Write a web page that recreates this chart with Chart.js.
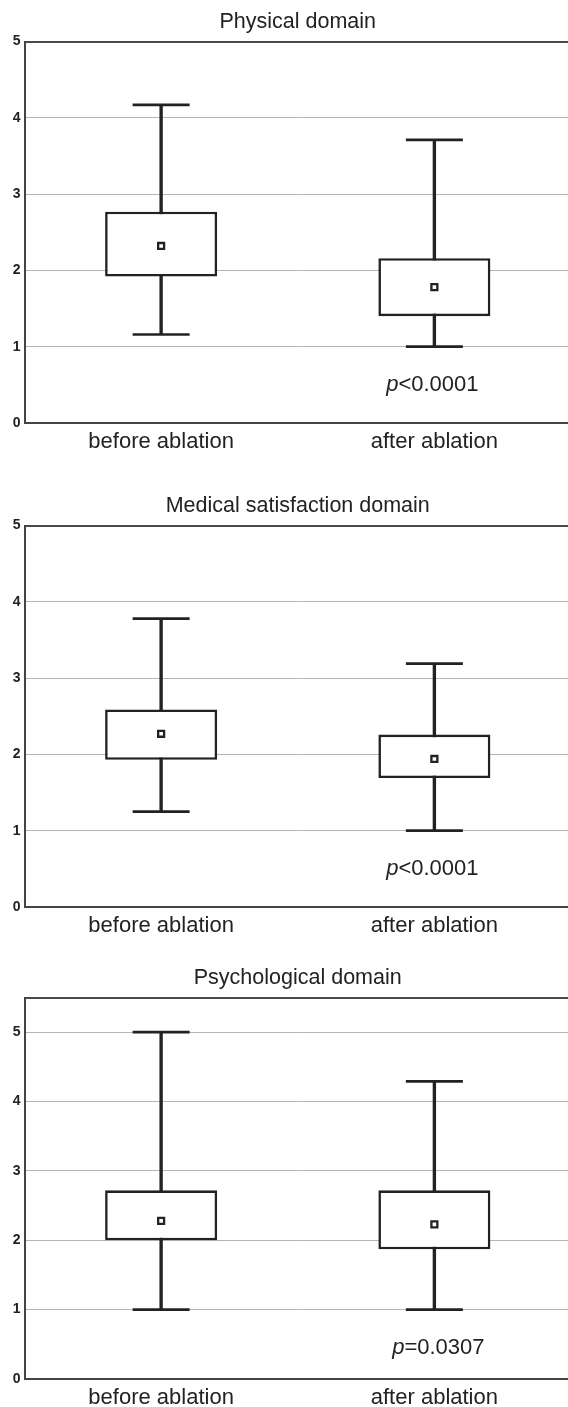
<!DOCTYPE html>
<html>
<head>
<meta charset="utf-8">
<script src="https://cdn.jsdelivr.net/npm/chart.js@4"></script>
<style>
html,body{margin:0;padding:0;background:#fff;overflow:hidden;width:568px;height:1407px;position:relative;}
.wrap{position:absolute;left:0;width:571px;height:470px;}
</style>
</head>
<body>
<div class="wrap" style="top:0px"><canvas id="c1"></canvas></div>
<div class="wrap" style="top:484px"><canvas id="c2"></canvas></div>
<div class="wrap" style="top:956px"><canvas id="c3"></canvas></div>
<script>
// ---- data ----
const categories = ['before ablation', 'after ablation'];
const titles = ['Physical domain', 'Medical satisfaction domain', 'Psychological domain'];
const yTickLabels = [0, 1, 2, 3, 4, 5];
const yMax = [5, 5, 5.5];

const physicalMin  = [1.16, 1.00];
const physicalQ1   = [1.92, 1.40];
const physicalMean = [2.32, 1.78];
const physicalQ3   = [2.77, 2.16];
const physicalMax  = [4.17, 3.71];

const medicalMin  = [1.25, 1.00];
const medicalQ1   = [1.93, 1.69];
const medicalMean = [2.27, 1.94];
const medicalQ3   = [2.59, 2.26];
const medicalMax  = [3.78, 3.19];

const psychMin  = [1.00, 1.00];
const psychQ1   = [2.00, 1.87];
const psychMean = [2.28, 2.23];
const psychQ3   = [2.72, 2.72];
const psychMax  = [5.00, 4.29];

const pValueText = ['<0.0001', '<0.0001', '=0.0307'];
const pValueAt   = [0.5, 0.5, 0.45];

// ---- styling ----
const DARK = '#222222';
const FONT = '"Liberation Sans", Arial, Helvetica, sans-serif';

const pLabelPlugin = {
  id: 'plabel',
  afterDatasetsDraw(chart, args, opts) {
    const ctx = chart.ctx;
    const x = chart.scales.x, y = chart.scales.y;
    const px = x.getPixelForValue(opts.index) + (opts.dx || 0);
    const py = y.getPixelForValue(opts.value);
    ctx.save();
    ctx.fillStyle = DARK;
    ctx.textBaseline = 'middle';
    ctx.textAlign = 'left';
    ctx.font = 'italic 22px ' + FONT;
    const w1 = ctx.measureText('p').width;
    ctx.font = '22px ' + FONT;
    const w2 = ctx.measureText(opts.text).width;
    let sx = px - (w1 + w2) / 2;
    ctx.font = 'italic 22px ' + FONT;
    ctx.fillText('p', sx, py);
    ctx.font = '22px ' + FONT;
    ctx.fillText(opts.text, sx + w1, py);
    ctx.restore();
  }
};

function makeChart(id, idx, mins, q1, means, q3, maxs, dx) {
  const max = yMax[idx];
  return new Chart(document.getElementById(id), {
    data: {
      labels: categories,
      datasets: [
        {
          type: 'line', data: means, showLine: false, order: 0,
          pointStyle: 'rect', pointRadius: 4.2, pointBorderWidth: 2.3,
          pointBackgroundColor: '#fff', pointBorderColor: DARK
        },
        {
          type: 'bar', order: 1, grouped: false,
          data: categories.map((_, i) => [q1[i], q3[i]]),
          backgroundColor: '#fff', borderColor: DARK, borderWidth: 2.6,
          borderSkipped: false, barPercentage: 0.41, categoryPercentage: 1
        },
        {
          type: 'line', data: maxs, showLine: false, order: 2,
          pointStyle: 'line', pointRadius: 28.5, pointBorderWidth: 2.7,
          pointBorderColor: DARK, pointBackgroundColor: DARK
        },
        {
          type: 'line', data: mins, showLine: false, order: 2,
          pointStyle: 'line', pointRadius: 28.5, pointBorderWidth: 2.7,
          pointBorderColor: DARK, pointBackgroundColor: DARK
        },
        {
          type: 'bar', order: 3, grouped: false,
          data: categories.map((_, i) => [mins[i], maxs[i]]),
          backgroundColor: DARK, borderWidth: 0, barThickness: 2.7
        }
      ]
    },
    options: {
      responsive: true, maintainAspectRatio: false, animation: false, events: [],
      layout: { padding: 0, autoPadding: false },
      plugins: {
        legend: { display: false },
        tooltip: { enabled: false },
        title: {
          display: true, fullSize: false, text: titles[idx], color: DARK,
          font: { family: FONT, size: 21.5, weight: 'normal', lineHeight: 1.2 },
          padding: { top: 9.1, bottom: 6.6 }
        },
        plabel: { index: 1, value: pValueAt[idx], text: pValueText[idx], dx: dx }
      },
      scales: {
        x: {
          type: 'category', offset: true,
          grid: { display: false, drawTicks: false },
          border: { display: true, color: '#444', width: 2 },
          ticks: { color: DARK, font: { family: FONT, size: 22 }, padding: 6, maxRotation: 0, autoSkip: false },
          afterFit(s) { s.height = 47; }
        },
        y: {
          min: 0, max: max,
          grid: {
            drawTicks: false,
            color: (c) => (c.tick && (c.tick.value === max || c.tick.value === 0)) ? '#4a4a4a' : '#b5b5b5',
            lineWidth: (c) => (c.tick && c.tick.value === max) ? 2 : 1
          },
          border: { display: true, color: '#444', width: 2 },
          ticks: {
            stepSize: 1, autoSkip: false, padding: 4, color: DARK,
            font: { family: FONT, size: 14, weight: 'bold' },
            callback: (v) => yTickLabels.includes(v) ? String(v) : ''
          },
          afterFit(s) { s.width = 24.5; }
        }
      }
    },
    plugins: [pLabelPlugin]
  });
}

makeChart('c1', 0, physicalMin, physicalQ1, physicalMean, physicalQ3, physicalMax, -2);
makeChart('c2', 1, medicalMin, medicalQ1, medicalMean, medicalQ3, medicalMax, -2);
makeChart('c3', 2, psychMin, psychQ1, psychMean, psychQ3, psychMax, 4);
</script>
</body>
</html>
